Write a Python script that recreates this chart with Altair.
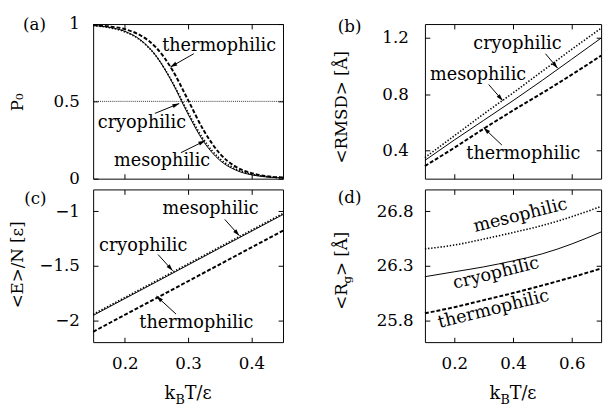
import altair as alt
import numpy as np
import pandas as pd

FONT = "DejaVu Serif"
TICK_FS = 17
NOTE_FS = 18
TITLE_FS = 17

# ---------------- data ----------------
# (a) P0 vs kBT/eps
T_a = [0.15, 0.175, 0.2, 0.225, 0.25, 0.275, 0.3, 0.325, 0.35, 0.375, 0.4, 0.425, 0.45]
P0_cryo = [0.991, 0.979, 0.953, 0.897, 0.791, 0.622, 0.417, 0.237, 0.119, 0.056, 0.025, 0.011, 0.005]
P0_meso = [0.990, 0.977, 0.950, 0.894, 0.790, 0.626, 0.428, 0.250, 0.130, 0.063, 0.029, 0.013, 0.006]
P0_thermo = [0.994, 0.985, 0.967, 0.926, 0.846, 0.704, 0.508, 0.310, 0.163, 0.078, 0.036, 0.016, 0.007]
P0_half = [0.5]

# (b) <RMSD>
T_b = [0.1, 0.2, 0.3, 0.4, 0.5, 0.6, 0.7]
RMSD_cryo = [0.33, 0.475, 0.615, 0.755, 0.90, 1.05, 1.20]
RMSD_meso = [0.35, 0.505, 0.66, 0.81, 0.965, 1.12, 1.27]
RMSD_thermo = [0.29, 0.42, 0.555, 0.685, 0.81, 0.94, 1.075]

# (c) <E>/N
T_c = [0.15, 0.25, 0.35, 0.45]
E_cryo = [-1.955, -1.647, -1.338, -1.030]
E_meso = [-1.945, -1.637, -1.328, -1.020]
E_thermo = [-2.105, -1.796, -1.487, -1.178]

# (d) <Rg>
T_d = [0.1, 0.2, 0.3, 0.4, 0.5, 0.6, 0.7]
Rg_cryo = [26.20, 26.245, 26.29, 26.345, 26.41, 26.50, 26.61]
Rg_meso = [26.455, 26.49, 26.545, 26.605, 26.67, 26.75, 26.845]
Rg_thermo = [25.865, 25.92, 25.985, 26.05, 26.12, 26.195, 26.275]

# domains and ticks
xdom_ac = [0.15, 0.45]
xticks_ac = [0.2, 0.3, 0.4]
xdom_bd = [0.1, 0.7]
xticks_bd = [0.2, 0.4, 0.6]
ydom_a = [0, 1]
yticks_a = [0, 0.5, 1]
ydom_b = [0.2, 1.3]
yticks_b = [0.4, 0.8, 1.2]
ydom_c = [-2.2, -0.8]
yticks_c = [-2, -1.5, -1]
ydom_d = [25.6, 27.0]
yticks_d = [25.8, 26.3, 26.8]

# annotations (data coordinates)
notes_a_text = ["thermophilic", "cryophilic", "mesophilic"]
notes_a_x = [0.349, 0.227, 0.259]
notes_a_y = [0.86, 0.359, 0.111]
arr_a_x1 = [0.309, 0.2475, 0.2886]
arr_a_y1 = [0.808, 0.422, 0.168]
arr_a_x2 = [0.272, 0.286, 0.327]
arr_a_y2 = [0.722, 0.486, 0.246]

notes_b_text = ["cryophilic", "mesophilic", "thermophilic"]
notes_b_x = [0.415, 0.281, 0.435]
notes_b_y = [1.16, 0.939, 0.376]
arr_b_x1 = [0.5105, 0.317, 0.362]
arr_b_y1 = [1.089, 0.870, 0.439]
arr_b_x2 = [0.552, 0.365, 0.300]
arr_b_y2 = [0.986, 0.755, 0.562]

notes_c_text = ["mesophilic", "cryophilic", "thermophilic"]
notes_c_x = [0.3356, 0.229, 0.313]
notes_c_y = [-0.984, -1.32, -2.03]
arr_c_x1 = [0.358, 0.2526, 0.281]
arr_c_y1 = [-1.075, -1.397, -1.943]
arr_c_x2 = [0.381, 0.2757, 0.250]
arr_c_y2 = [-1.224, -1.546, -1.778]

notes_d_text = ["mesophilic", "cryophilic", "thermophilic"]
notes_d_x = [0.4255, 0.342, 0.334]
notes_d_y = [26.76, 26.23, 25.90]
notes_d_angle = [346, 346, 346]

# ---------------- layout constants ----------------
W_L, W_R, H_T, H_B = 194, 180, 158, 156
ONE = pd.DataFrame({"o": [0]})
HEAD = "M0,0L-0.6,2L0.6,2Z"

STYLES = {
    "cryo": dict(strokeWidth=1.0),
    "meso": dict(strokeWidth=1.6, strokeDash=[1.4, 1.8]),
    "thermo": dict(strokeWidth=2.0, strokeDash=[4, 2]),
}


def scales(xdom, ydom):
    return (alt.Scale(domain=xdom, nice=False, zero=False),
            alt.Scale(domain=ydom, nice=False, zero=False))


def label_axis(orient, values, labels, pad):
    return alt.Axis(orient=orient, values=values, labels=labels, ticks=False, tickSize=0,
                    domain=False, grid=False, title=None, format=".3~g",
                    labelFont=FONT, labelFontSize=TICK_FS, labelColor="black",
                    labelPadding=pad, labelFlush=False, labelOverlap=False)


def tick_axis(orient, values, offset):
    return alt.Axis(orient=orient, values=values, offset=offset, labels=False, ticks=True,
                    tickSize=5, tickColor="black", tickWidth=1, domain=False, grid=False,
                    title=None)


def line_layer(x, y, style, xs, ys, ax, ay):
    df = pd.DataFrame({"x": x, "y": y})
    return alt.Chart(df).mark_line(color="black", interpolate="monotone", **STYLES[style]).encode(
        x=alt.X("x:Q", scale=xs, axis=ax), y=alt.Y("y:Q", scale=ys, axis=ay))


def notes_layer(texts, xv, yv, xs, ys, angles=None):
    df = pd.DataFrame({"x": xv, "y": yv, "t": texts,
                       "a": angles if angles is not None else [0] * len(texts)})
    return alt.Chart(df).mark_text(font=FONT, fontSize=NOTE_FS, color="black",
                                   baseline="middle", align="center").encode(
        x=alt.X("x:Q", scale=xs, axis=None), y=alt.Y("y:Q", scale=ys, axis=None),
        text="t:N", angle=alt.Angle("a:Q", scale=None))


def arrow_layers(x1, y1, x2, y2, xdom, ydom, W, H, xs, ys):
    ang = []
    for a, b, c, d in zip(x1, y1, x2, y2):
        dx = (c - a) / (xdom[1] - xdom[0]) * W
        dy = -(d - b) / (ydom[1] - ydom[0]) * H
        ang.append(float(np.degrees(np.arctan2(dx, -dy)) % 360))
    df = pd.DataFrame({"x1": x1, "y1": y1, "x2": x2, "y2": y2, "ang": ang})
    shaft = alt.Chart(df).mark_rule(color="black", strokeWidth=1).encode(
        x=alt.X("x1:Q", scale=xs, axis=None), y=alt.Y("y1:Q", scale=ys, axis=None),
        x2="x2:Q", y2="y2:Q")
    head = alt.Chart(df).mark_point(shape=HEAD, filled=True, size=49, color="black",
                                    opacity=1, strokeWidth=0).encode(
        x=alt.X("x2:Q", scale=xs, axis=None), y=alt.Y("y2:Q", scale=ys, axis=None),
        angle=alt.Angle("ang:Q", scale=None))
    return [shaft, head]


def text_at(txt, x, y, fs=NOTE_FS, angle=0, align="center", baseline="middle"):
    kw = dict(text=txt, font=FONT, fontSize=fs, color="black", align=align, baseline=baseline)
    if angle:
        kw["angle"] = angle
    return alt.Chart(ONE).mark_text(**kw).encode(x=alt.value(x), y=alt.value(y))


def x_title(W, H):
    fs, sfs = 18, 13
    wk, wb, wt = 0.63 * fs, 0.72 * sfs, 1.53 * fs
    x0 = W / 2 - (wk + wb + wt) / 2
    yb = H + 58
    return [
        text_at("k", x0, yb, fs=fs, align="left", baseline="alphabetic"),
        text_at("B", x0 + wk, yb + 5, fs=sfs, align="left", baseline="alphabetic"),
        text_at("T/ε", x0 + wk + wb, yb, fs=fs, align="left", baseline="alphabetic"),
    ]


def panel(W, H, xdom, ydom, xticks, yticks, xlabels, ypad, series, extra):
    xs, ys = scales(xdom, ydom)
    ax_sets = [
        (label_axis("bottom", xticks, xlabels, 14), label_axis("left", yticks, True, ypad)),
        (tick_axis("top", xticks, -H), tick_axis("right", yticks, -W)),
        (tick_axis("bottom", xticks, -H), tick_axis("left", yticks, -W)),
    ]
    layers = []
    for (x, y, sty), (ax, ay) in zip(series, ax_sets):
        layers.append(line_layer(x, y, sty, xs, ys, ax, ay))
    for e in extra:
        layers.extend(e(xs, ys) if callable(e) else [e])
    return alt.layer(*layers).resolve_axis(x="independent", y="independent").properties(
        width=W, height=H)


# ---- panel (a)
pa = panel(
    W_L, H_T, xdom_ac, ydom_a, xticks_ac, yticks_a, False, 14,
    [(T_a, P0_cryo, "cryo"), (T_a, P0_meso, "meso"), (T_a, P0_thermo, "thermo")],
    [
        lambda xs, ys: [alt.Chart(pd.DataFrame({"y": P0_half})).mark_rule(
            color="black", strokeWidth=0.8, strokeDash=[1, 1]).encode(
            y=alt.Y("y:Q", scale=ys, axis=None))],
        lambda xs, ys: [notes_layer(notes_a_text, notes_a_x, notes_a_y, xs, ys)],
        lambda xs, ys: arrow_layers(arr_a_x1, arr_a_y1, arr_a_x2, arr_a_y2,
                                    xdom_ac, ydom_a, W_L, H_T, xs, ys),
        text_at("(a)", -60, 1, fs=17),
        text_at("P₀", -72, 80, fs=TITLE_FS, angle=270, baseline="alphabetic"),
    ],
)

# ---- panel (b)
pb = panel(
    W_R, H_T, xdom_bd, ydom_b, xticks_bd, yticks_b, False, 17,
    [(T_b, RMSD_cryo, "cryo"), (T_b, RMSD_meso, "meso"), (T_b, RMSD_thermo, "thermo")],
    [
        lambda xs, ys: [notes_layer(notes_b_text, notes_b_x, notes_b_y, xs, ys)],
        lambda xs, ys: arrow_layers(arr_b_x1, arr_b_y1, arr_b_x2, arr_b_y2,
                                    xdom_bd, ydom_b, W_R, H_T, xs, ys),
        text_at("(b)", -77, 3, fs=17),
        text_at("<RMSD> [Å]", -80, 85, fs=TITLE_FS, angle=270, baseline="alphabetic"),
    ],
)

# ---- panel (c)
pc = panel(
    W_L, H_B, xdom_ac, ydom_c, xticks_ac, yticks_c, True, 14,
    [(T_c, E_cryo, "cryo"), (T_c, E_meso, "meso"), (T_c, E_thermo, "thermo")],
    [
        lambda xs, ys: [notes_layer(notes_c_text, notes_c_x, notes_c_y, xs, ys)],
        lambda xs, ys: arrow_layers(arr_c_x1, arr_c_y1, arr_c_x2, arr_c_y2,
                                    xdom_ac, ydom_c, W_L, H_B, xs, ys),
        text_at("(c)", -59, 10, fs=17),
        text_at("<E>/N [ε]", -72, 77, fs=TITLE_FS, angle=270, baseline="alphabetic"),
    ] + x_title(W_L, H_B),
)

# ---- panel (d): y title with subscript g
w1, w2 = 1.57 * TITLE_FS, 0.64 * 12
yd0 = 83 + (w1 + w2 + 2.66 * TITLE_FS) / 2
pd_ = panel(
    W_R, H_B, xdom_bd, ydom_d, xticks_bd, yticks_d, True, 12,
    [(T_d, Rg_cryo, "cryo"), (T_d, Rg_meso, "meso"), (T_d, Rg_thermo, "thermo")],
    [
        lambda xs, ys: [notes_layer(notes_d_text, notes_d_x, notes_d_y, xs, ys, notes_d_angle)],
        text_at("(d)", -77, 9, fs=17),
        text_at("<R", -80, yd0, fs=TITLE_FS, angle=270, align="left", baseline="alphabetic"),
        text_at("g", -76, yd0 - w1, fs=12, angle=270, align="left", baseline="alphabetic"),
        text_at("> [Å]", -80, yd0 - w1 - w2, fs=TITLE_FS, angle=270, align="left",
                baseline="alphabetic"),
    ] + x_title(W_R, H_B),
)

chart = alt.concat(
    pa, pb, pc, pd_, columns=2, spacing={"row": 11, "column": 145}, bounds="flush"
).properties(
    padding={"left": 0, "top": 2, "right": 0, "bottom": 0}, background="white"
).configure_view(stroke="black", strokeWidth=1)

chart.save("out.html", embed_options={"renderer": "svg", "actions": False})
